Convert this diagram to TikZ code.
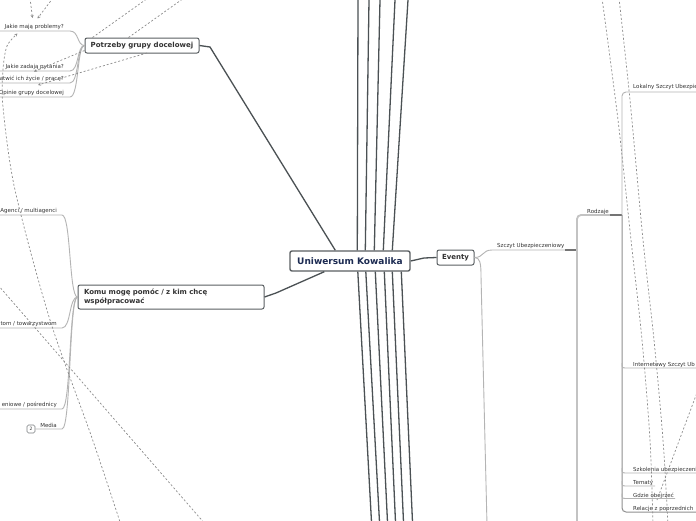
\documentclass[tikz,border=0pt]{standalone}
\usepackage{fontspec}
\setmainfont{DejaVu Sans}
\usetikzlibrary{arrows.meta,calc}
\definecolor{mainline}{HTML}{4B5154}
\definecolor{boxline}{HTML}{5A5F62}
\definecolor{subline}{HTML}{B4B4B4}
\definecolor{subdark}{HTML}{747474}
\definecolor{dashc}{HTML}{8C8C8C}
\definecolor{navy}{HTML}{1C2B52}
\definecolor{txt}{HTML}{333333}
\begin{document}
\begin{tikzpicture}[x=1pt,y=-1pt,
 mainconn/.style={draw=mainline, line width=1.3pt},
 subconn/.style={draw=subline, line width=0.9pt},
 subdarkconn/.style={draw=subdark, line width=1.2pt},
 rel/.style={draw=dashc, line width=0.7pt, dash pattern=on 2pt off 2pt},
 relarrow/.style={rel, -{Stealth[length=3pt,width=3pt]}},
 topicbox/.style={draw=boxline, line width=1pt, rounded corners=2pt, fill=white, font=\fontsize{7}{8}\selectfont\bfseries, text=txt, inner sep=0pt},
 leaf/.style={font=\fontsize{5.5}{6}\selectfont, text=txt, inner sep=0pt},
]
\fill[white] (0,0) rectangle (696,520);
\clip (0,0) rectangle (696,520);

% ---------- topic nodes
\node[topicbox, minimum width=120pt, minimum height=20pt, line width=1.4pt,
      font=\fontsize{9}{10}\selectfont\bfseries, text=navy] (c) at (350,261) {Uniwersum Kowalika};
\node[topicbox, minimum width=114pt, minimum height=15pt] (p) at (142,45.5) {Potrzeby grupy docelowej};
\node[topicbox, minimum width=186pt, minimum height=24pt, text width=174pt, align=left,
      font=\fontsize{7}{9}\selectfont\bfseries] (k) at (171,297) {Komu mogę pomóc / z kim chcę\\współpracować};
\node[topicbox, minimum width=37pt, minimum height=15pt] (e) at (455.5,257.5) {Eventy};

% ---------- main branch lines
\foreach \i/\dx/\xt in {1/68/358, 2/76/369, 3/85/380, 4/94/395, 5/103/408}{
  \coordinate (t\i) at (\xt,0);
  \draw[mainconn] ($(c.north west)+(\dx,0)$) -- (t\i);
}
\foreach \i/\dx/\xb in {1/68.5/371.5, 2/76.5/379.5, 3/86/387.5, 4/95/395.5, 5/103/403.5, 6/112/412.5}{
  \coordinate (b\i) at (\xb,522);
  \draw[mainconn] ($(c.south west)+(\dx,0)$) -- (b\i);
}
\draw[mainconn] ($(c.north west)+(46,0)$) -- (210,47) -- (p.east);
\draw[mainconn] ($(c.south west)+(35,0)$) -- (276,293) -- (k.east);
\draw[mainconn] (c.east) -- (424,258) -- (e.west);

% ---------- Potrzeby children
\node[leaf, anchor=east] (l1) at (64,27.3) {Jakie mają problemy?};
\node[leaf, anchor=east] (l2) at (64,67.3) {Jakie zadają pytania?};
\node[leaf, anchor=east] (l3) at (64,79.3) {atwić ich życie / pracę?};
\node[leaf, anchor=east] (l4) at (64,93.3) {Opinie grupy docelowej};
\coordinate (u1) at (-2,31);
\coordinate (u2) at (-2,71);
\coordinate (u3) at (-2,83);
\coordinate (u4) at (-2,97);
\draw[subconn] (p.west) .. controls (77,45.5) and (79,31) .. (70,31) -- (u1);
\draw[subconn] (p.west) .. controls (77,45.5) and (79,71) .. (70,71) -- (u2);
\draw[subconn] (p.west) .. controls (77,45.5) and (79,83) .. (70,83) -- (u3);
\draw[subconn] (p.west) .. controls (77,45.5) and (79,97) .. (70,97) -- (u4);

% ---------- Komu children
\node[leaf, anchor=east] (m1) at (57,211.3) {Agenci / multiagenci};
\node[leaf, anchor=east] (m2) at (57,324.3) {tom / towarzystwom};
\node[leaf, anchor=east] (m3) at (57,404.8) {eniowe / pośrednicy};
\node[leaf, anchor=east] (m4) at (57,425.3) {Media};
\node[draw=boxline!80, line width=0.6pt, rounded corners=1.5pt, minimum width=8pt, minimum height=8pt,
      inner sep=0pt, font=\fontsize{4.5}{5}\selectfont, text=txt] (n2) at (31,429) {2};
\coordinate (v1) at (-2,215);
\coordinate (v2) at (-2,328);
\coordinate (v3) at (-2,409);
\draw[subconn] (k.west) .. controls (69,297) and (71,215) .. (62,215) -- (v1);
\draw[subconn] (k.west) .. controls (69,297) and (71,328) .. (62,328) -- (v2);
\draw[subconn] (k.west) .. controls (69,297) and (71,409) .. (62,409) -- (v3);
\draw[subconn] (k.west) .. controls (69,297) and (71,429) .. (62,429) -- (n2.east);

% ---------- Eventy children
\node[leaf, anchor=west] (s) at (497,246.3) {Szczyt Ubezpieczeniowy};
\coordinate (sz) at (565,250);
\coordinate (szend) at (577,250);
\coordinate (ebot) at (487,525);
\draw[subconn] (e.east) .. controls (484,257.5) and (482,250) .. (492,250) -- (sz);
\draw[subdarkconn] (sz) -- (szend);
\draw[subconn] (e.east) .. controls (480,257.5) and (481,263) .. (481,276) -- (ebot);

% Szczyt children
\node[leaf, anchor=west] (r) at (587,212.3) {Rodzaje};
\coordinate (rz) at (610,215);
\coordinate (rzend) at (622,215);
\coordinate (sbot) at (577,525);
\draw[draw=subline!80, line width=1.8pt, rounded corners=4pt] (sbot) -- (577,215) -- (rz);
\draw[subdarkconn] (rz) -- (rzend);

% Rodzaje children
\node[leaf, anchor=west] (g1) at (633,87.3) {Lokalny Szczyt Ubezpie};
\node[leaf, anchor=west] (g2) at (633,365.3) {Internetowy Szczyt Ub};
\node[leaf, anchor=west] (g3) at (633,470.3) {Szkolenia ubezpieczeni};
\node[leaf, anchor=west] (g4) at (633,483.3) {Tematy};
\node[leaf, anchor=west] (g5) at (633,495.8) {Gdzie obejrzeć};
\node[leaf, anchor=west] (g6) at (633,508.8) {Relacje z poprzednich};
\coordinate (w1) at (698,92);
\coordinate (w2) at (698,368);
\coordinate (w3) at (698,473);
\coordinate (w4) at (655,486);
\coordinate (w5) at (675,498.5);
\coordinate (w6) at (698,512);
\draw[subconn, rounded corners=4pt] (rzend) -- (622,92) -- (w1);
\draw[draw=subdark!80, line width=1pt, rounded corners=4pt] (rzend) -- (622,512) -- (w6);
\draw[subconn] (622,363) .. controls (622,368) .. (627,368) -- (w2);
\draw[subconn] (622,468) .. controls (622,473) .. (627,473) -- (w3);
\draw[subconn] (622,481) .. controls (622,486) .. (627,486) -- (w4);
\draw[subconn] (622,493.5) .. controls (622,498.5) .. (627,498.5) -- (w5);

% ---------- relationship lines (dashed)
\coordinate (d1a) at (30,-2);   \coordinate (d1b) at (32.5,18);
\coordinate (d2a) at (53,-2);   \coordinate (d2b) at (37.5,18.5);
\coordinate (d3) at (148,-2);
\coordinate (d4) at (184,-2);
\coordinate (d5b) at (34,71.5);
\coordinate (d6a) at (147,53);   \coordinate (d6b) at (38,85);
\coordinate (d8a) at (-2,285);  \coordinate (d8b) at (206,525);
\draw[relarrow] (d1a) -- (d1b);
\draw[relarrow] (d2a) -- (d2b);
\draw[rel] ($(p.north west)+(8,0)$) -- (d3);
\draw[rel] ($(p.north west)+(44,0)$) -- (d4);
\draw[relarrow] ($(p.south west)+(0,-3)$) -- (d5b);
\draw[relarrow] (d6a) -- (d6b);
\draw[relarrow] plot[smooth] coordinates {(121,525) (92,438) (50,320) (15,190) (3,107) (3,70) (7,46) (17.5,33.5)};
\draw[rel] (d8a) -- (d8b);
\draw[rel] plot[smooth] coordinates {(602,-2) (618,120) (631,240) (642,340) (650,440) (653,525)};
\draw[rel] plot[smooth] coordinates {(619,-2) (630,100) (643,240) (654,340) (663,440) (668,525)};
\draw[rel] (698,390) -- (657,500);
\end{tikzpicture}
\end{document}
